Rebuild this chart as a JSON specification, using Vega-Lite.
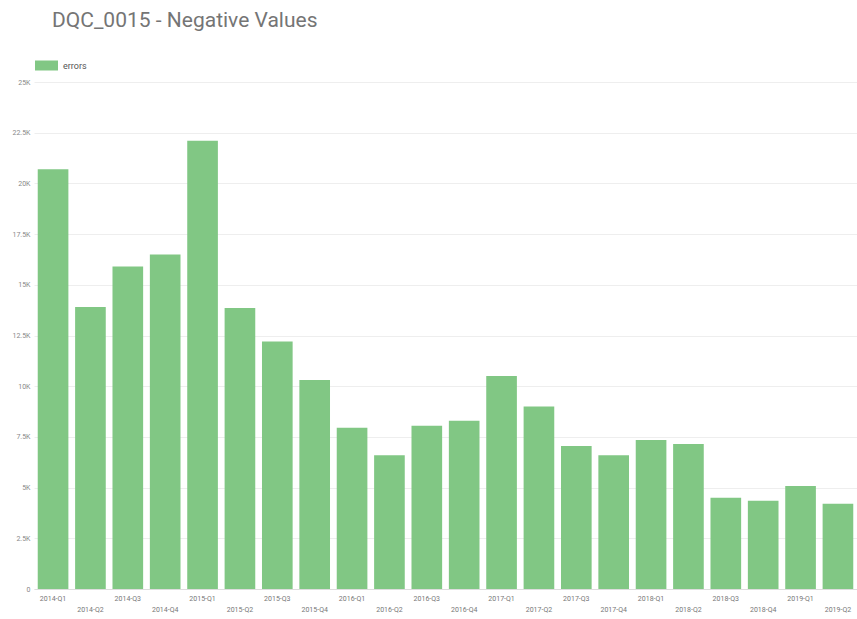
{
  "$schema": "https://vega.github.io/schema/vega-lite/v6.json",
  "autosize": {"type": "none"},
  "width": 823,
  "height": 507,
  "padding": {"left": 34, "top": 82, "right": 0, "bottom": 30},
  "background": "white",
  "config": {
    "font": "Roboto",
    "view": {"stroke": null}
  },
  "title": {
    "text": "DQC_0015 - Negative Values",
    "anchor": "start",
    "frame": "group",
    "dx": 18,
    "offset": 23,
    "fontSize": 21,
    "fontWeight": "normal",
    "color": "#757575",
    "font": "Roboto"
  },
  "data": {
    "values": [
      {"quarter": "2014-Q1", "errors": 20700, "series": "errors"},
      {"quarter": "2014-Q2", "errors": 13900, "series": "errors"},
      {"quarter": "2014-Q3", "errors": 15900, "series": "errors"},
      {"quarter": "2014-Q4", "errors": 16500, "series": "errors"},
      {"quarter": "2015-Q1", "errors": 22100, "series": "errors"},
      {"quarter": "2015-Q2", "errors": 13850, "series": "errors"},
      {"quarter": "2015-Q3", "errors": 12200, "series": "errors"},
      {"quarter": "2015-Q4", "errors": 10300, "series": "errors"},
      {"quarter": "2016-Q1", "errors": 7950, "series": "errors"},
      {"quarter": "2016-Q2", "errors": 6600, "series": "errors"},
      {"quarter": "2016-Q3", "errors": 8050, "series": "errors"},
      {"quarter": "2016-Q4", "errors": 8300, "series": "errors"},
      {"quarter": "2017-Q1", "errors": 10500, "series": "errors"},
      {"quarter": "2017-Q2", "errors": 9000, "series": "errors"},
      {"quarter": "2017-Q3", "errors": 7050, "series": "errors"},
      {"quarter": "2017-Q4", "errors": 6600, "series": "errors"},
      {"quarter": "2018-Q1", "errors": 7350, "series": "errors"},
      {"quarter": "2018-Q2", "errors": 7150, "series": "errors"},
      {"quarter": "2018-Q3", "errors": 4500, "series": "errors"},
      {"quarter": "2018-Q4", "errors": 4350, "series": "errors"},
      {"quarter": "2019-Q1", "errors": 5080, "series": "errors"},
      {"quarter": "2019-Q2", "errors": 4200, "series": "errors"}
    ]
  },
  "mark": {"type": "bar"},
  "encoding": {
    "x": {
      "field": "quarter",
      "type": "ordinal",
      "sort": null,
      "scale": {"paddingInner": 0.18, "paddingOuter": 0.1},
      "axis": {
        "title": null,
        "labelAngle": 0,
        "labelFontSize": 7,
        "labelColor": "#777777",
        "labelLineHeight": 11,
        "labelPadding": 5,
        "labelBaseline": "top",
        "ticks": false,
        "domainColor": "#dddddd",
        "labelOverlap": false,
        "labelExpr": "(indexof(datum.value,'Q2')>=0 || indexof(datum.value,'Q4')>=0) ? ['', datum.value] : datum.value"
      }
    },
    "y": {
      "field": "errors",
      "type": "quantitative",
      "scale": {"domain": [0, 25000], "nice": false},
      "axis": {
        "title": null,
        "values": [0, 2500, 5000, 7500, 10000, 12500, 15000, 17500, 20000, 22500, 25000],
        "labelExpr": "datum.value == 0 ? '0' : (datum.value / 1000) + 'K'",
        "labelFontSize": 7,
        "labelColor": "#888888",
        "labelPadding": 4,
        "ticks": false,
        "domain": false,
        "gridColor": "#eeeeee",
        "gridWidth": 1
      }
    },
    "color": {
      "field": "series",
      "type": "nominal",
      "scale": {"range": ["#81c784"]},
      "legend": {
        "title": null,
        "orient": "none",
        "legendX": 1,
        "legendY": -28,
        "padding": 0,
        "symbolType": "M-1,-0.435L1,-0.435L1,0.435L-1,0.435Z",
        "symbolSize": 529,
        "symbolStrokeWidth": 0,
        "symbolOpacity": 1,
        "labelFontSize": 9,
        "labelColor": "#555555",
        "labelOffset": 5
      }
    }
  }
}
